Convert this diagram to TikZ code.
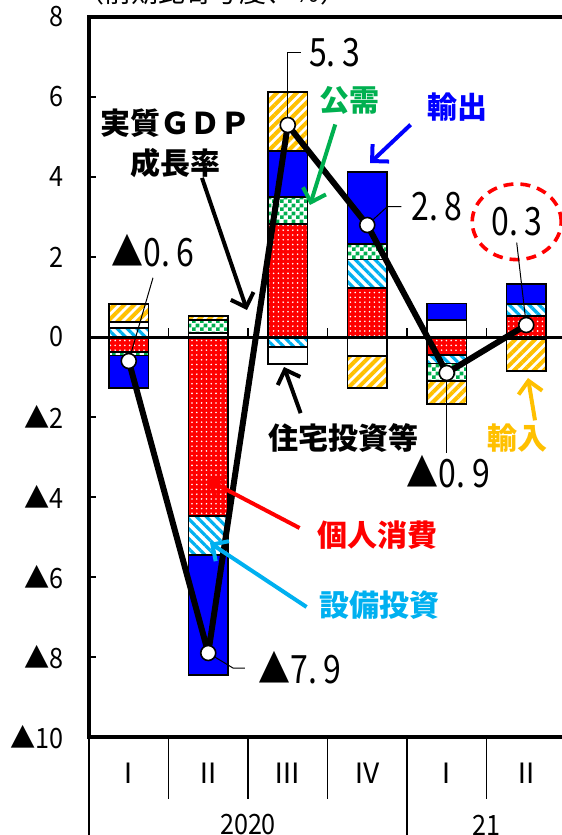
\documentclass[tikz,border=0pt]{standalone}
\usepackage{fontspec}
\setmainfont{Noto Sans CJK JP}
\newfontfamily\narrowfont[FakeStretch=0.9]{Noto Sans CJK JP}
\newfontfamily\tallfont[FakeStretch=0.82]{Noto Sans CJK JP}
\usetikzlibrary{arrows.meta,patterns,patterns.meta}

\definecolor{consred}{RGB}{255,0,0}
\definecolor{capexblue}{RGB}{0,176,240}
\definecolor{pubgreen}{RGB}{0,176,80}
\definecolor{expblue}{RGB}{0,0,255}
\definecolor{impgold}{RGB}{255,192,0}

\pgfdeclarepatternformonly{smallchecks}{\pgfpointorigin}{\pgfqpoint{4pt}{4pt}}{\pgfqpoint{4pt}{4pt}}{%
  \pgfpathrectangle{\pgfpointorigin}{\pgfqpoint{2pt}{2pt}}%
  \pgfpathrectangle{\pgfqpoint{2pt}{2pt}}{\pgfqpoint{2pt}{2pt}}%
  \pgfusepath{fill}}

\tikzset{
  bar/.style={draw=black, line width=0.8pt},
  consbar/.style={bar, preaction={fill=consred}, pattern={Dots[radius=0.45pt,distance=2.4pt]}, pattern color=white},
  capexbar/.style={bar, pattern={Lines[angle=-45,distance=3.5pt,line width=1.6pt]}, pattern color=capexblue},
  housebar/.style={bar, fill=white},
  pubbar/.style={bar, pattern=smallchecks, pattern color=pubgreen},
  expbar/.style={bar, fill=expblue},
  impbar/.style={bar, pattern={Lines[angle=45,distance=3.5pt,line width=2pt]}, pattern color=impgold},
  frame/.style={line width=2pt},
  axisline/.style={line width=0.6pt},
  sepline/.style={line width=0.6pt},
  gdpline/.style={line width=3pt, line join=round},
  leader/.style={line width=0.5pt},
  dot/.style={circle, draw=black, fill=white, line width=0.8pt, minimum size=7.5pt, inner sep=0pt},
  keyarrow/.style={line width=2pt, -{Straight Barb[length=6pt,width=12pt]}},
  ticklbl/.style={anchor=east, inner sep=0pt, font=\narrowfont\fontsize{14}{14}\selectfont},
  datalbl/.style={inner sep=1pt, font=\tallfont\fontsize{19.5}{20}\selectfont},
  keylbl/.style={inner sep=0pt, align=center, font=\bfseries\fontsize{15}{20}\selectfont},
  quarter/.style={font=\fontsize{14}{14}\selectfont},
  yearlbl/.style={font=\narrowfont\fontsize{14}{14}\selectfont}
}

\begin{document}
\begin{tikzpicture}[x=39.75pt,y=20pt]
\useasboundingbox (-1.1195,-12.45) rectangle (5.9497,8.425);

% title (cut off at the top)
\node[anchor=base, font=\fontsize{13.5}{14}\selectfont] (title) at (1.55,8.35) {（前期比寄与度、％）};

% 2020 I
\draw[capexbar] (0.25,0) rectangle (0.75,0.22);
\draw[housebar] (0.25,0.22) rectangle (0.75,0.37);
\draw[impbar] (0.25,0.37) rectangle (0.75,0.82);
\draw[consbar] (0.25,0) rectangle (0.75,-0.38);
\draw[pubbar] (0.25,-0.38) rectangle (0.75,-0.46);
\draw[expbar] (0.25,-0.46) rectangle (0.75,-1.28);
% 2020 II
\draw[housebar] (1.25,0) rectangle (1.75,0.1);
\draw[pubbar] (1.25,0.1) rectangle (1.75,0.42);
\draw[impbar] (1.25,0.42) rectangle (1.75,0.52);
\draw[consbar] (1.25,0) rectangle (1.75,-4.48);
\draw[capexbar] (1.25,-4.48) rectangle (1.75,-5.45);
\draw[expbar] (1.25,-5.45) rectangle (1.75,-8.45);
% 2020 III
\draw[consbar] (2.25,0) rectangle (2.75,2.82);
\draw[pubbar] (2.25,2.82) rectangle (2.75,3.5);
\draw[expbar] (2.25,3.5) rectangle (2.75,4.65);
\draw[impbar] (2.25,4.65) rectangle (2.75,6.12);
\draw[capexbar] (2.25,0) rectangle (2.75,-0.25);
\draw[housebar] (2.25,-0.25) rectangle (2.75,-0.67);
% 2020 IV
\draw[consbar] (3.25,0) rectangle (3.75,1.23);
\draw[capexbar] (3.25,1.23) rectangle (3.75,1.94);
\draw[pubbar] (3.25,1.94) rectangle (3.75,2.32);
\draw[expbar] (3.25,2.32) rectangle (3.75,4.12);
\draw[housebar] (3.25,0) rectangle (3.75,-0.47);
\draw[impbar] (3.25,-0.47) rectangle (3.75,-1.28);
% 2021 I
\draw[housebar] (4.25,0) rectangle (4.75,0.42);
\draw[expbar] (4.25,0.42) rectangle (4.75,0.84);
\draw[consbar] (4.25,0) rectangle (4.75,-0.45);
\draw[capexbar] (4.25,-0.45) rectangle (4.75,-0.66);
\draw[pubbar] (4.25,-0.66) rectangle (4.75,-1.1);
\draw[impbar] (4.25,-1.1) rectangle (4.75,-1.68);
% 2021 II
\draw[consbar] (5.25,0) rectangle (5.75,0.52);
\draw[capexbar] (5.25,0.52) rectangle (5.75,0.82);
\draw[expbar] (5.25,0.82) rectangle (5.75,1.32);
\draw[housebar] (5.25,0) rectangle (5.75,-0.05);
\draw[impbar] (5.25,-0.05) rectangle (5.75,-0.85);

% frame and axes
\draw[frame] (6,8) -- (0,8) -- (0,-10) -- (6,-10);
\draw[line width=1.5pt] (0,0) -- (6,0);
\draw[axisline] (0,6) -- (0.09,6);
\draw[axisline] (0,4) -- (0.09,4);
\draw[axisline] (0,2) -- (0.09,2);
\draw[axisline] (0,-2) -- (0.09,-2);
\draw[axisline] (0,-4) -- (0.09,-4);
\draw[axisline] (0,-6) -- (0.09,-6);
\draw[axisline] (0,-8) -- (0.09,-8);
\draw[axisline] (1,0) -- (1,0.22);
\draw[axisline] (2,0) -- (2,0.22);
\draw[axisline] (3,0) -- (3,0.22);
\draw[axisline] (4,0) -- (4,0.22);
\draw[axisline] (5,0) -- (5,0.22);

% y labels
\node[ticklbl] (y8) at (-0.31,8) {8};
\node[ticklbl] (y6) at (-0.31,6) {6};
\node[ticklbl] (y4) at (-0.31,4) {4};
\node[ticklbl] (y2) at (-0.31,2) {2};
\node[ticklbl] (y0) at (-0.31,0) {0};
\node[ticklbl] (ym2) at (-0.31,-2) {▲2};
\node[ticklbl] (ym4) at (-0.31,-4) {▲4};
\node[ticklbl] (ym6) at (-0.31,-6) {▲6};
\node[ticklbl] (ym8) at (-0.31,-8) {▲8};
\node[ticklbl] (ym10) at (-0.31,-10) {▲10};

% quarters and years
\draw[sepline] (0,-10) -- (0,-12.6);
\draw[sepline] (1,-10) -- (1,-11.55);
\draw[sepline] (2,-10) -- (2,-11.55);
\draw[sepline] (3,-10) -- (3,-11.55);
\draw[sepline] (4,-10) -- (4,-12.6);
\draw[sepline] (5,-10) -- (5,-11.55);
\node[quarter] (q1) at (0.5,-10.9) {Ⅰ};
\node[quarter] (q2) at (1.5,-10.9) {Ⅱ};
\node[quarter] (q3) at (2.5,-10.9) {Ⅲ};
\node[quarter] (q4) at (3.5,-10.9) {Ⅳ};
\node[quarter] (q5) at (4.5,-10.9) {Ⅰ};
\node[quarter] (q6) at (5.5,-10.9) {Ⅱ};
\node[yearlbl] (yr20) at (2,-12.2) {2020};
\node[yearlbl] (yr21) at (5,-12.2) {21};

% real GDP growth
\coordinate (g1) at (0.5,-0.6);
\coordinate (g2) at (1.5,-7.9);
\coordinate (g3) at (2.5,5.3);
\coordinate (g4) at (3.5,2.8);
\coordinate (g5) at (4.5,-0.9);
\coordinate (g6) at (5.5,0.3);
\draw[gdpline] (g1) -- (g2) -- (g3) -- (g4) -- (g5) -- (g6);

\node[datalbl] (l06) at (0.805,2.15) {▲0.\,6};
\node[datalbl,anchor=west] (l79) at (2.1,-8.275) {▲7.\,9};
\node[datalbl,anchor=west] (l53) at (2.74,7.1) {5.\,3};
\node[datalbl,anchor=west] (l28) at (4.03,3.26) {2.\,8};
\node[datalbl] (l03) at (5.38,2.88) {0.\,3};
\node[datalbl] (l09) at (4.52,-3.375) {▲0.\,9};
\draw[red, line width=1.8pt, dash pattern=on 5pt off 3.5pt] (l03) ellipse [x radius=22.25pt, y radius=18.9pt];

\draw[leader] ([yshift=-4pt]l06.south) -- (g1);
\draw[leader] (g2) -- ([xshift=-11.5pt]l79.west) -- ([xshift=-5.5pt]l79.west);
\draw[leader] (g3) |- ([xshift=-3pt]l53.west);
\draw[leader] (g4) -- ([xshift=-11pt]l28.west) -- ([xshift=-4pt]l28.west);
\draw[leader] (g5) -- (g5 |- l09.north);
\draw[leader] ([yshift=-2pt]l03.south) -- (g6);

\node[dot] (d1) at (g1) {};
\node[dot] (d2) at (g2) {};
\node[dot] (d3) at (g3) {};
\node[dot] (d4) at (g4) {};
\node[dot] (d5) at (g5) {};
\node[dot] (d6) at (g6) {};

% keys
\node[keylbl] (kGDP) at (1.094,4.85) {実質ＧＤＰ\\成長率};
\node[keylbl, text=pubgreen] (kPub) at (3.28,5.925) {公需};
\node[keylbl, text=expblue] (kExp) at (4.629,5.75) {輸出};
\node[keylbl] (kHouse) at (3.195,-2.525) {住宅投資等};
\node[keylbl, text=consred] (kCons) at (3.635,-4.95) {個人消費};
\node[keylbl, text=capexblue] (kCapex) at (3.66,-6.7) {設備投資};
\node[keylbl, text=impgold] (kImp) at (5.396,-2.525) {輸入};

\coordinate (hGDP) at (1.987,0.675);
\coordinate (hPub) at (2.78,3.3);
\coordinate (hExp) at (3.535,4.35);
\coordinate (hHouse) at (2.453,-0.75);
\coordinate (hCons) at (1.497,-3.575);
\coordinate (hCapex) at (1.522,-5.15);
\coordinate (hImp) at (5.522,-1.025);

\draw[keyarrow] ([xshift=13pt]kGDP.south) -- (hGDP);
\draw[keyarrow, pubgreen] ([shift={(-7.25pt,-5pt)}]kPub.south) -- (hPub);
\draw[keyarrow, expblue] ([shift={(-8pt,-1.5pt)}]kExp.south west) -- (hExp);
\draw[keyarrow] ([shift={(16.5pt,5pt)}]kHouse.north west) -- (hHouse);
\draw[keyarrow, consred] ([shift={(-9pt,3.5pt)}]kCons.west) -- (hCons);
\draw[keyarrow, capexblue] ([shift={(-6.5pt,-1pt)}]kCapex.west) -- (hCapex);
\draw[keyarrow, impgold] ([shift={(8.5pt,1.5pt)}]kImp.north) -- (hImp);
\end{tikzpicture}
\end{document}
